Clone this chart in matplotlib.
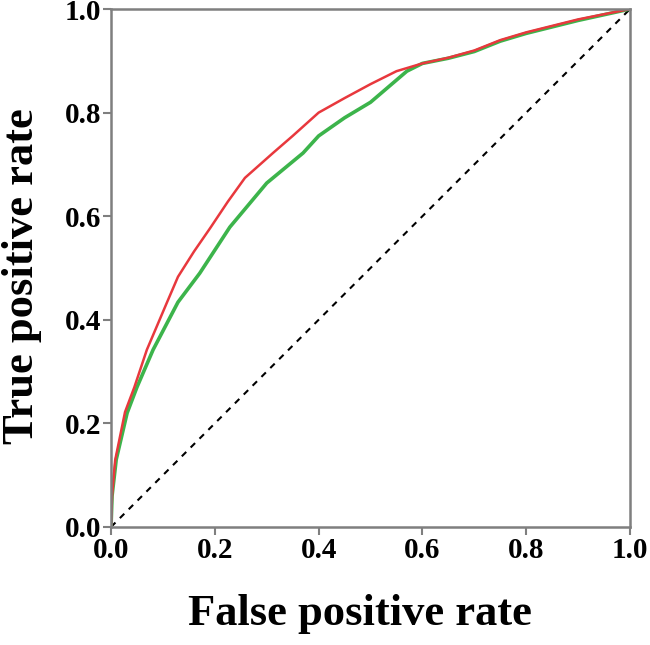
import matplotlib
matplotlib.use("Agg")
import matplotlib.pyplot as plt

red_fpr = [0.0, 0.002, 0.008, 0.027, 0.045, 0.069, 0.108, 0.129, 0.16, 0.191, 0.225, 0.258, 0.312, 0.35, 0.4, 0.45, 0.5, 0.55, 0.6, 0.65, 0.7, 0.75, 0.8, 0.9, 1.0]
red_tpr = [0.0, 0.06, 0.129, 0.222, 0.27, 0.342, 0.434, 0.483, 0.532, 0.577, 0.628, 0.674, 0.722, 0.755, 0.80, 0.828, 0.855, 0.88, 0.895, 0.906, 0.92, 0.94, 0.955, 0.98, 1.0]

green_fpr = [0.0, 0.002, 0.01, 0.031, 0.05, 0.081, 0.129, 0.171, 0.229, 0.30, 0.37, 0.4, 0.45, 0.5, 0.57, 0.6, 0.65, 0.7, 0.75, 0.8, 0.9, 1.0]
green_tpr = [0.0, 0.06, 0.13, 0.220, 0.27, 0.342, 0.434, 0.490, 0.579, 0.664, 0.722, 0.755, 0.79, 0.82, 0.88, 0.895, 0.905, 0.918, 0.938, 0.953, 0.978, 1.0]

ticks = [0.0, 0.2, 0.4, 0.6, 0.8, 1.0]
tick_labels = ["0.0", "0.2", "0.4", "0.6", "0.8", "1.0"]

plt.rcParams['font.family'] = ['Liberation Serif', 'DejaVu Serif']

fig = plt.figure(figsize=(6.5, 6.45), dpi=100)
ax = fig.add_axes([0.1708, 0.183, 0.7985, 0.803])

ax.plot([0, 1], [0, 1], linestyle=(0, (3, 3)), color='black', lw=1.5)
ax.plot(green_fpr, green_tpr, color='#3cb44b', lw=2.6)
ax.plot(red_fpr, red_tpr, color='#e8383d', lw=1.8)

ax.set_xlim(0, 1)
ax.set_ylim(0, 1)
ax.set_xticks(ticks)
ax.set_yticks(ticks)
ax.set_xticklabels(tick_labels)
ax.set_yticklabels(tick_labels)

for s in ax.spines.values():
    s.set_color('#7f7f7f')
    s.set_linewidth(1.8)
ax.tick_params(direction='out', length=6, width=1.5, color='#7f7f7f', labelsize=21, pad=1)
for lab in ax.get_xticklabels() + ax.get_yticklabels():
    lab.set_fontweight('bold')

ax.set_xlabel('False positive rate', fontsize=32, fontweight='bold', ha='center', va='center')
ax.xaxis.set_label_coords(0.48, -0.168)
ax.set_ylabel('True positive rate', fontsize=32, fontweight='bold', ha='center', va='center')
ax.yaxis.set_label_coords(-0.171, 0.484)

fig.savefig('out.png', dpi=100)
